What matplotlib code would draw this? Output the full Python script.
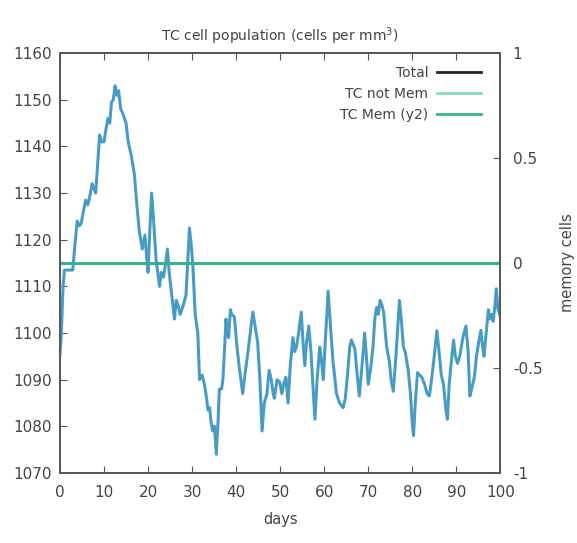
import matplotlib
matplotlib.use("Agg")
import matplotlib.pyplot as plt
from matplotlib.lines import Line2D

# valores
dias = [0.0, 0.3, 0.7, 1.0, 2.9, 3.3, 3.9, 4.4, 4.8, 5.3, 5.8, 6.3, 6.7, 7.3,
        7.7, 8.1, 8.6, 9.0, 9.4, 10.0, 10.4, 10.9, 11.3, 11.7, 12.1, 12.5,
        12.9, 13.3, 13.8, 14.3, 15.0, 15.5, 16.2, 16.9, 17.5, 18.0, 18.7,
        19.3, 19.7, 20.0, 20.4, 20.8, 21.2, 21.8, 22.2, 22.6, 23.0, 23.5,
        24.0, 24.4, 24.8, 25.4, 26.0, 26.4, 26.8, 27.3, 28.0, 28.6, 29.0,
        29.4, 29.8, 30.2, 30.7, 31.3, 31.7, 32.3, 32.8, 33.3, 33.6, 34.0,
        34.3, 34.7, 35.1, 35.5, 35.9, 36.2, 36.7, 37.0, 37.4, 37.7, 38.0,
        38.3, 38.7, 39.0, 39.6, 40.2, 40.8, 41.5, 42.0, 42.7, 43.2, 43.8,
        44.4, 44.9, 45.4, 45.9, 46.4, 47.0, 47.5, 48.0, 48.4, 48.7, 49.3,
        49.9, 50.4, 50.8, 51.3, 51.8, 52.3, 52.9, 53.3, 53.7, 54.2, 54.8,
        55.2, 55.6, 56.0, 56.5, 57.0, 57.5, 57.9, 58.4, 59.0, 59.4, 59.8,
        60.3, 60.9, 61.4, 62.0, 62.8, 63.5, 64.3, 64.8, 65.3, 65.8, 66.2,
        67.0, 67.5, 68.0, 68.6, 69.2, 69.6, 70.0, 70.5, 71.1, 71.5, 71.9,
        72.3, 72.7, 73.1, 73.5, 74.2, 74.8, 75.2, 75.7, 76.3, 76.7, 77.1,
        77.6, 78.0, 78.4, 79.1, 79.6, 80.0, 80.3, 80.7, 81.2, 81.7, 82.2,
        82.8, 83.4, 83.9, 84.4, 85.0, 85.6, 86.1, 86.6, 87.1, 87.6, 88.0,
        88.4, 89.0, 89.4, 89.8, 90.3, 90.8, 91.5, 92.2, 92.7, 93.1, 93.5,
        94.1, 94.6, 95.1, 95.6, 96.0, 96.3, 96.8, 97.3, 97.7, 98.1, 98.4,
        98.8, 99.1, 99.5, 100.0]

total = [1095.5, 1100, 1110, 1113.5, 1113.5, 1118, 1124, 1123, 1123.5, 1126,
         1128.5, 1127.5, 1129, 1132, 1131, 1130, 1137, 1142.5, 1141, 1141,
         1143.5, 1146, 1145, 1149.5, 1150, 1153, 1151, 1152, 1148, 1147,
         1145, 1141, 1138, 1134, 1127, 1122, 1118, 1121, 1116, 1113, 1122,
         1130, 1125, 1116, 1113, 1110, 1113, 1112, 1115, 1118, 1113, 1108,
         1103, 1107, 1106, 1104, 1106, 1108, 1115, 1122.5, 1119, 1114, 1104,
         1100, 1090, 1091, 1089, 1086, 1083.5, 1084, 1081, 1079, 1080, 1074,
         1081, 1088, 1088, 1090, 1097, 1103, 1100, 1099, 1105, 1104, 1103.5,
         1097, 1092, 1087, 1091, 1096, 1100, 1104.5, 1101, 1098, 1090, 1079,
         1085, 1087, 1092, 1090, 1087, 1086, 1090, 1089.5, 1087, 1089, 1090.5,
         1085, 1093, 1099, 1096, 1097, 1100, 1104.5, 1098, 1093, 1098, 1101.5,
         1096, 1088, 1081.5, 1090, 1097, 1094, 1090, 1099, 1109, 1102, 1094,
         1087, 1085, 1084, 1086, 1091, 1097, 1098.5, 1096.5, 1091, 1086.5,
         1093, 1100, 1095, 1089, 1092, 1097, 1103, 1105.5, 1104, 1107, 1106,
         1104.5, 1097, 1094, 1090, 1087.5, 1095, 1101, 1107, 1102, 1097, 1096,
         1092, 1087, 1081, 1078, 1085, 1091.5, 1091, 1090.5, 1089, 1087,
         1086.5, 1090, 1095, 1100.5, 1096, 1091, 1089, 1084, 1081.5, 1089,
         1095, 1098.5, 1095, 1093.5, 1095, 1099, 1101.5, 1096, 1086.5, 1088,
         1090.5, 1095, 1098, 1100.6, 1097, 1095, 1100, 1105, 1103, 1104,
         1102.5, 1106, 1109.5, 1105, 1103.5]

# sin celulas de memoria: TC not Mem coincide con Total
tc_not_mem = total
dias_mem = [0, 100]
tc_mem = [0, 0]

x_ticks = [0, 10, 20, 30, 40, 50, 60, 70, 80, 90, 100]
y_ticks = [1070, 1080, 1090, 1100, 1110, 1120, 1130, 1140, 1150, 1160]
y2_ticks = [-1, -0.5, 0, 0.5, 1]
y2_labels = ["-1", "-0.5", "0", "0.5", "1"]

GRIS = "#444444"
EJE = "#555555"

plt.rcParams["font.family"] = ["DejaVu Sans"]

fig = plt.figure(figsize=(5.77, 5.43), dpi=100)
ax = fig.add_axes([0.104, 0.129, 0.763, 0.773])
ax2 = ax.twinx()

ax.plot(dias, total, color="#4b9fd2", linewidth=2.2, zorder=3)
ax.plot(dias, tc_not_mem, color="#4a97a8", linewidth=0.9, alpha=0.7, zorder=4)
ax2.plot(dias_mem, tc_mem, color="#36b38e", linewidth=2.2)

ax.set_xlim(0, 100)
ax.set_ylim(1070, 1160)
ax2.set_ylim(-1, 1)

ax.set_xticks(x_ticks)
ax.set_yticks(y_ticks)
ax2.set_yticks(y2_ticks)
ax2.set_yticklabels(y2_labels)

ax.tick_params(axis="x", direction="in", top=True, length=5, color=EJE,
               labelsize=11, labelcolor=GRIS, pad=9)
ax.tick_params(axis="y", direction="in", right=False, length=5, color=EJE,
               labelsize=11, labelcolor=GRIS, pad=6)
ax2.tick_params(axis="y", direction="in", length=5, color=EJE,
                labelsize=11, labelcolor=GRIS, pad=9)

for a in (ax, ax2):
    for s in a.spines.values():
        s.set_color(EJE)
        s.set_linewidth(1.2)

ax.set_title("TC cell population (cells per mm$^3$)", fontsize=10,
             color=GRIS, pad=9)
ax.set_xlabel("days", fontsize=10.5, color=GRIS, labelpad=8)
ax2.set_ylabel("memory cells", fontsize=10.5, color=GRIS, labelpad=13)

manijas = [
    Line2D([], [], color="#222222", linewidth=2),
    Line2D([], [], color="#8ad8c0", linewidth=2),
    Line2D([], [], color="#36b38e", linewidth=2),
]
leyenda = ax2.legend(manijas, ["Total", "TC not Mem", "TC Mem (y2)"],
                     loc="upper right", bbox_to_anchor=(0.985, 1.0),
                     markerfirst=False, frameon=False, fontsize=10,
                     handlelength=3.2, labelspacing=0.5, handletextpad=0.6)
for t in leyenda.get_texts():
    t.set_color(GRIS)

plt.savefig("out.png", dpi=100)
plt.close()
